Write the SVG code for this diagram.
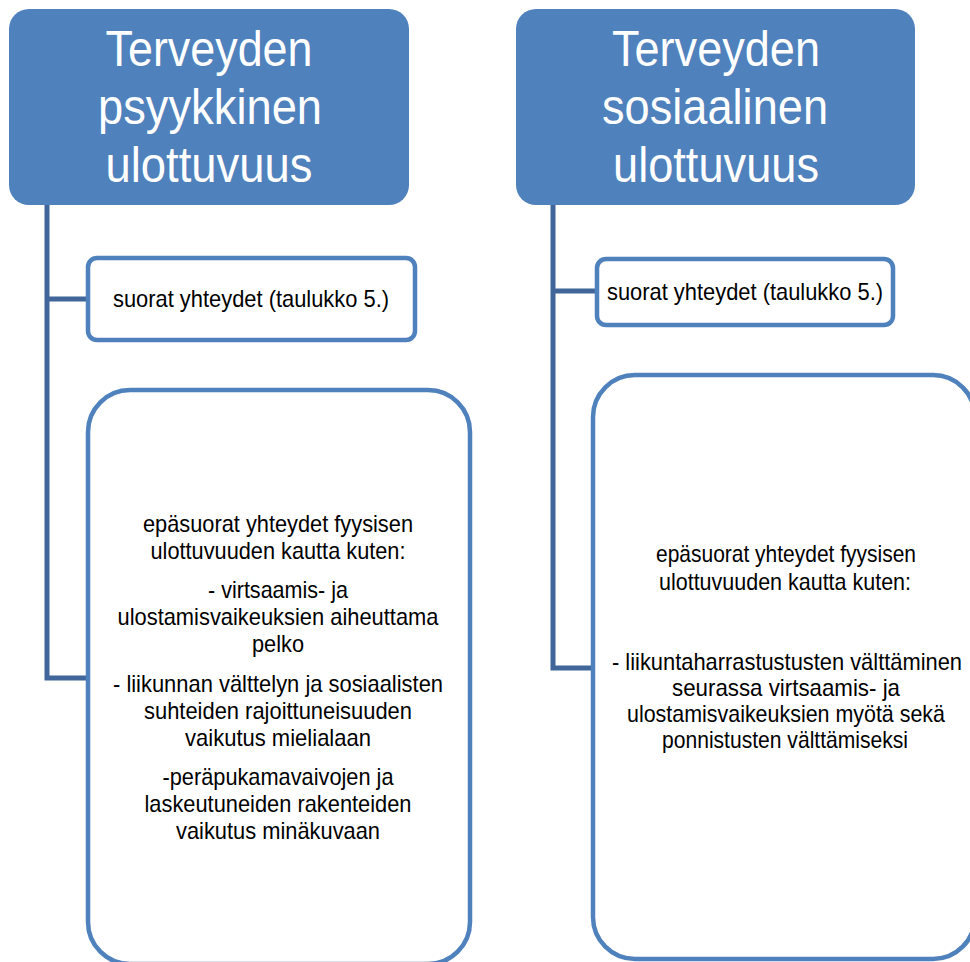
<svg xmlns="http://www.w3.org/2000/svg" width="970" height="962" viewBox="0 0 970 962">
<style>
.hdr{fill:#4F81BD;}
.box{fill:#FFFFFF;stroke:#4F81BD;stroke-width:4.5;}
.conn{fill:none;stroke:#41679A;stroke-width:5;}
.ht{font-family:"Liberation Sans",Arial,sans-serif;font-size:50px;fill:#FFFFFF;text-anchor:middle;}
.t{font-family:"Liberation Sans",Arial,sans-serif;font-size:24px;fill:#000000;text-anchor:middle;}
</style>
<rect x="0" y="0" width="970" height="962" fill="#FFFFFF"/>
<g id="connectors">
<path class="conn" d="M47,205 V678 H88 M47,299 H88"/>
<path class="conn" d="M553,205 V668 H593 M553,291 H597"/>
</g>
<g id="header-left">
<rect class="hdr" x="9" y="9" width="400" height="196" rx="20"/>
<text class="ht" x="209" y="66" textLength="207" lengthAdjust="spacingAndGlyphs">Terveyden</text>
<text class="ht" x="210" y="124" textLength="224" lengthAdjust="spacingAndGlyphs">psyykkinen</text>
<text class="ht" x="209" y="182" textLength="207" lengthAdjust="spacingAndGlyphs">ulottuvuus</text>
</g>
<g id="header-right">
<rect class="hdr" x="516" y="9" width="399" height="196" rx="20"/>
<text class="ht" x="716" y="66" textLength="208" lengthAdjust="spacingAndGlyphs">Terveyden</text>
<text class="ht" x="715" y="124" textLength="226" lengthAdjust="spacingAndGlyphs">sosiaalinen</text>
<text class="ht" x="716" y="182" textLength="206" lengthAdjust="spacingAndGlyphs">ulottuvuus</text>
</g>
<g id="direct-left">
<rect class="box" x="88" y="258" width="327" height="82" rx="9"/>
<text class="t" x="251" y="307" textLength="276" lengthAdjust="spacingAndGlyphs">suorat yhteydet (taulukko 5.)</text>
</g>
<g id="direct-right">
<rect class="box" x="597" y="259" width="296" height="66" rx="9"/>
<text class="t" x="745" y="300" textLength="276" lengthAdjust="spacingAndGlyphs">suorat yhteydet (taulukko 5.)</text>
</g>
<g id="indirect-left">
<rect class="box" x="88" y="390" width="382" height="574" rx="42"/>
<text class="t" x="278" y="532" textLength="270" lengthAdjust="spacingAndGlyphs">epäsuorat yhteydet fyysisen</text>
<text class="t" x="278" y="559" textLength="255" lengthAdjust="spacingAndGlyphs">ulottuvuuden kautta kuten:</text>
<text class="t" x="278" y="598" textLength="140" lengthAdjust="spacingAndGlyphs">- virtsaamis- ja</text>
<text class="t" x="278" y="625" textLength="321" lengthAdjust="spacingAndGlyphs">ulostamisvaikeuksien aiheuttama</text>
<text class="t" x="278" y="652" textLength="52" lengthAdjust="spacingAndGlyphs">pelko</text>
<text class="t" x="278" y="692" textLength="330" lengthAdjust="spacingAndGlyphs">- liikunnan välttelyn ja sosiaalisten</text>
<text class="t" x="278" y="719" textLength="268" lengthAdjust="spacingAndGlyphs">suhteiden rajoittuneisuuden</text>
<text class="t" x="278" y="746" textLength="186" lengthAdjust="spacingAndGlyphs">vaikutus mielialaan</text>
<text class="t" x="278" y="785" textLength="231" lengthAdjust="spacingAndGlyphs">-peräpukamavaivojen ja</text>
<text class="t" x="278" y="812" textLength="267" lengthAdjust="spacingAndGlyphs">laskeutuneiden rakenteiden</text>
<text class="t" x="278" y="839" textLength="204" lengthAdjust="spacingAndGlyphs">vaikutus minäkuvaan</text>
</g>
<g id="indirect-right">
<rect class="box" x="593" y="375" width="382" height="584" rx="42"/>
<text class="t" x="786" y="562" textLength="260" lengthAdjust="spacingAndGlyphs">epäsuorat yhteydet fyysisen</text>
<text class="t" x="785" y="590" textLength="252" lengthAdjust="spacingAndGlyphs">ulottuvuuden kautta kuten:</text>
<text class="t" x="787" y="670" textLength="350" lengthAdjust="spacingAndGlyphs">- liikuntaharrastustusten välttäminen</text>
<text class="t" x="786" y="696" textLength="228" lengthAdjust="spacingAndGlyphs">seurassa virtsaamis- ja</text>
<text class="t" x="786" y="722" textLength="318" lengthAdjust="spacingAndGlyphs">ulostamisvaikeuksien myötä sekä</text>
<text class="t" x="785" y="748" textLength="246" lengthAdjust="spacingAndGlyphs">ponnistusten välttämiseksi</text>
</g>
</svg>
